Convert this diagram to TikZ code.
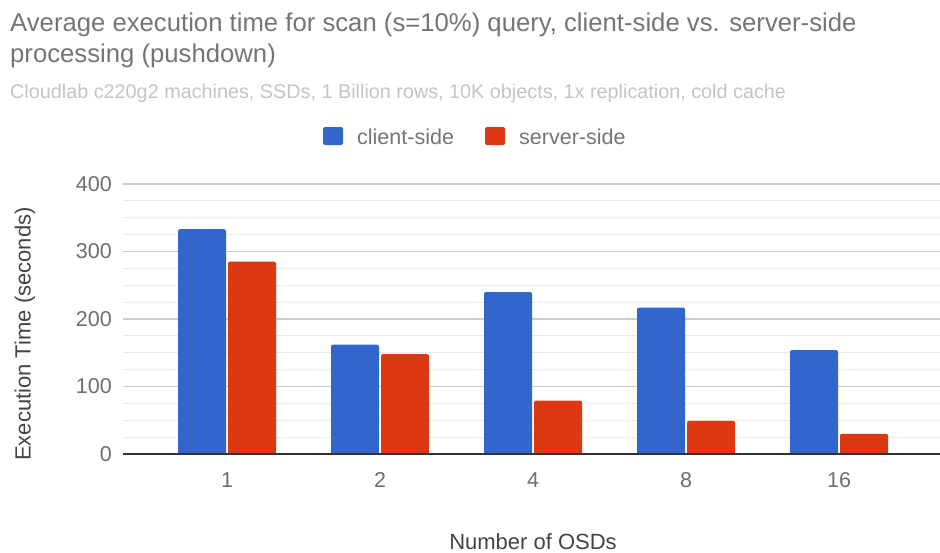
\documentclass[tikz,border=0pt]{standalone}
\usepackage{fontspec}
\setmainfont{Liberation Sans}
\definecolor{clientblue}{HTML}{3366CC}
\definecolor{serverred}{HTML}{DC3912}
\definecolor{titlegray}{HTML}{757575}
\definecolor{subgray}{HTML}{C4C4C4}
\definecolor{tickgray}{HTML}{6E6E6E}
\definecolor{axisgray}{HTML}{444444}
\definecolor{majorgrid}{HTML}{CCCCCC}
\definecolor{minorgrid}{HTML}{EBEBEB}
\definecolor{baseline}{HTML}{333333}
\begin{document}
\begin{tikzpicture}[x=1pt,y=-1pt,
  titletext/.style={anchor=base west,inner sep=0,text=titlegray,font=\fontsize{25.7}{30}\selectfont},
  subtext/.style={anchor=base west,inner sep=0,text=subgray,font=\fontsize{19.8}{24}\selectfont},
  legendtext/.style={anchor=base west,inner sep=0,text=titlegray,font=\fontsize{21.5}{26}\selectfont},
  legendkey/.style={rounded corners=2pt},
  ticklabel/.style={inner sep=0,text=tickgray,font=\fontsize{21.5}{26}\selectfont},
  axistitle/.style={inner sep=0,text=axisgray,font=\fontsize{22}{26}\selectfont},
  minorline/.style={draw=minorgrid,line width=1.2pt},
  majorline/.style={draw=majorgrid,line width=1.2pt},
  zeroline/.style={draw=baseline,line width=1.6pt},
  barshape/.style={rounded corners=2pt}]
\useasboundingbox (0,0) rectangle (940,552);
\fill[white] (0,0) rectangle (940,552);

% value v sits at y = 454 - 0.675 v
\def\yof#1{454-0.675*(#1)}

% title and subtitle
\node[titletext] (title1) at (10,31) {Average execution time for scan (s=10\%) query, client-side vs. server-side};
\node[titletext] (title2) at (10,62) {processing (pushdown)};
\node[subtext] (subtitle) at (10,98) {Cloudlab c220g2 machines, SSDs, 1 Billion rows, 10K objects, 1x replication, cold cache};

% legend
\fill[clientblue,legendkey] (323,127) rectangle (343,145);
\node[legendtext] (legclient) at (357,144) {client-side};
\fill[serverred,legendkey] (485,127) rectangle (505,145);
\node[legendtext] (legserver) at (519,144) {server-side};

% grid
\foreach \v in {25,50,75,125,150,175,225,250,275,325,350,375}
  \draw[minorline] (123,{\yof{\v}}) -- (940,{\yof{\v}});
\foreach \v in {100,200,300,400}
  \draw[majorline] (123,{\yof{\v}}) -- (940,{\yof{\v}});

% y tick labels
\foreach \v in {0,100,200,300,400}
  \node[ticklabel,anchor=east] (ytick\v) at (112,{\yof{\v}}) {\v};

% bars: group index / label / client / server
\foreach \i/\lab/\c/\s in {0/1/333/285, 1/2/162/148, 2/4/240/79, 3/8/217/49, 4/16/154/30}{
  \pgfmathsetmacro\cx{227+153*\i}
  \fill[clientblue,barshape] ({\cx-49},454) -- ({\cx-49},{\yof{\c}}) -- ({\cx-1},{\yof{\c}}) -- ({\cx-1},454);
  \fill[serverred,barshape] ({\cx+1},454) -- ({\cx+1},{\yof{\s}}) -- ({\cx+49},{\yof{\s}}) -- ({\cx+49},454);
  \node[ticklabel,anchor=base] (xtick\lab) at (\cx,487) {\lab};
}

% zero line
\draw[zeroline] (123,454) -- (940,454);

% axis titles
\node[axistitle,rotate=90] (ytitle) at (25,334) {Execution Time (seconds)};
\node[axistitle,anchor=base] (xtitle) at (533,549) {Number of OSDs};
\end{tikzpicture}
\end{document}
